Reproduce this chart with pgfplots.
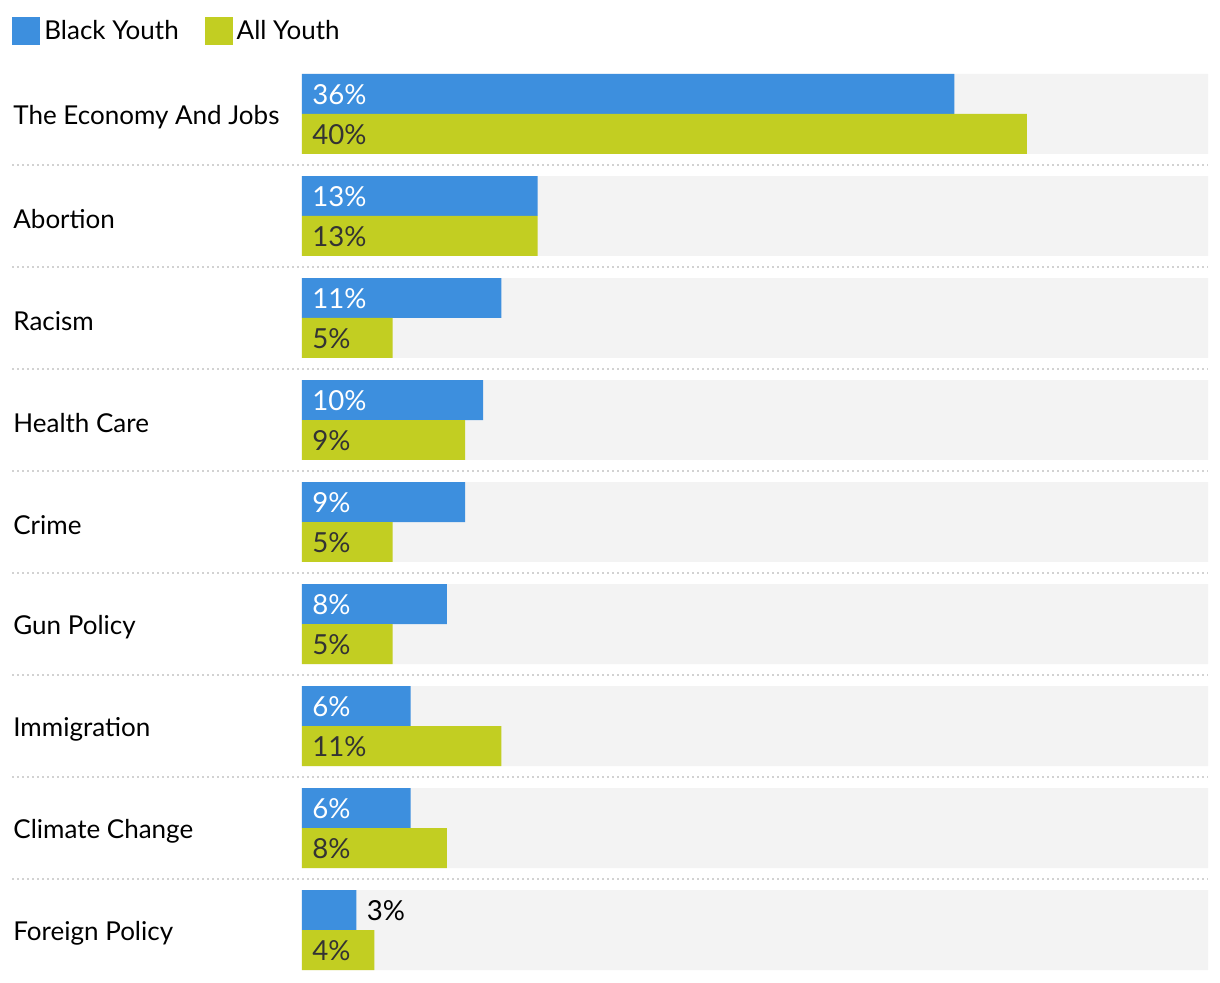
\documentclass[border=0pt]{standalone}
\usepackage{pgfplots}
\pgfplotsset{compat=1.18}
\usepackage{fontspec}
\setmainfont{Lato}
\definecolor{byouth}{HTML}{3D8FDE}
\definecolor{ayouth}{HTML}{C2CE22}
\definecolor{bgbar}{HTML}{F3F3F3}
\definecolor{sepc}{HTML}{D2D2D2}
\definecolor{darktxt}{HTML}{333333}

\pgfplotstableread{
y black all
0 36 40
1 13 13
2 11 5
3 10 9
4 9 5
5 8 5
6 6 11
7 6 8
8 3 4
}\data

\begin{document}
\begin{tikzpicture}[font=\fontsize{13}{15}\selectfont]
\useasboundingbox (-151pt,-6pt) rectangle (459pt,485pt);
\begin{axis}[
  at={(0,0)}, anchor=south west,
  scale only axis, width=453pt, height=448pt,
  xmin=0, xmax=50, ymin=-0.392, ymax=8.392, y dir=reverse,
  axis line style={draw=none}, tick style={draw=none},
  xtick=\empty,
  ytick={0,1,2,3,4,5,6,7,8},
  yticklabels={The Economy And Jobs, Abortion, Racism, Health Care, Crime, Gun Policy, Immigration, Climate Change, Foreign Policy},
  yticklabel style={anchor=west, inner sep=0pt, xshift=-144.5pt, yshift=-1.5pt, text=black},
  major tick length=0pt,
  clip=false,
  legend style={at={(0,1)}, anchor=west, xshift=-145pt, yshift=21.5pt,
    draw=none, fill=none, inner sep=0pt, legend columns=2,
    /tikz/every even column/.append style={column sep=11pt}},
  legend cell align=left,
]
\addplot[xbar, fill=bgbar, draw=none, bar width=0.784, bar shift=0, forget plot]
  coordinates {(50,0) (50,1) (50,2) (50,3) (50,4) (50,5) (50,6) (50,7) (50,8)};
\addplot[xbar, fill=byouth, draw=none, bar width=0.392, bar shift=-0.196,
  legend image code/.code={\fill[byouth] (-1pt,-7pt) rectangle (13pt,7pt);}]
  table[x=black, y=y] {\data};
\addlegendentry{Black Youth}
\addplot[xbar, fill=ayouth, draw=none, bar width=0.392, bar shift=0.196,
  legend image code/.code={\fill[ayouth] (-1pt,-7pt) rectangle (13pt,7pt);}]
  table[x=all, y=y] {\data};
\addlegendentry{All Youth}
% value labels
\addplot[draw=none, mark=none, forget plot,
  point meta=explicit symbolic, nodes near coords={\pgfplotspointmeta\%},
  every node near coord/.append style={anchor=west, text=white, inner sep=0pt, xshift=5pt, yshift=-0.5pt, font=\fontsize{13.8}{15}\selectfont}]
  coordinates {(0,-0.196) [36] (0,0.804) [13] (0,1.804) [11] (0,2.804) [10] (0,3.804) [9] (0,4.804) [8] (0,5.804) [6] (0,6.804) [6]};
\addplot[draw=none, mark=none, forget plot,
  point meta=explicit symbolic, nodes near coords={\pgfplotspointmeta\%},
  every node near coord/.append style={anchor=west, text=black, inner sep=0pt, xshift=5pt, yshift=-0.5pt, font=\fontsize{13.8}{15}\selectfont}]
  coordinates {(3,7.804) [3]};
\addplot[draw=none, mark=none, forget plot,
  point meta=explicit symbolic, nodes near coords={\pgfplotspointmeta\%},
  every node near coord/.append style={anchor=west, text=darktxt, inner sep=0pt, xshift=5pt, yshift=-0.5pt, font=\fontsize{13.8}{15}\selectfont}]
  coordinates {(0,0.196) [40] (0,1.196) [13] (0,2.196) [5] (0,3.196) [9] (0,4.196) [5] (0,5.196) [5] (0,6.196) [11] (0,7.196) [8] (0,8.196) [4]};
% separators
\draw[sepc, line width=1pt, dash pattern=on 1pt off 1.5pt] (axis cs:-16,0.5) -- (axis cs:50,0.5);
\draw[sepc, line width=1pt, dash pattern=on 1pt off 1.5pt] (axis cs:-16,1.5) -- (axis cs:50,1.5);
\draw[sepc, line width=1pt, dash pattern=on 1pt off 1.5pt] (axis cs:-16,2.5) -- (axis cs:50,2.5);
\draw[sepc, line width=1pt, dash pattern=on 1pt off 1.5pt] (axis cs:-16,3.5) -- (axis cs:50,3.5);
\draw[sepc, line width=1pt, dash pattern=on 1pt off 1.5pt] (axis cs:-16,4.5) -- (axis cs:50,4.5);
\draw[sepc, line width=1pt, dash pattern=on 1pt off 1.5pt] (axis cs:-16,5.5) -- (axis cs:50,5.5);
\draw[sepc, line width=1pt, dash pattern=on 1pt off 1.5pt] (axis cs:-16,6.5) -- (axis cs:50,6.5);
\draw[sepc, line width=1pt, dash pattern=on 1pt off 1.5pt] (axis cs:-16,7.5) -- (axis cs:50,7.5);
\end{axis}
\end{tikzpicture}
\end{document}
